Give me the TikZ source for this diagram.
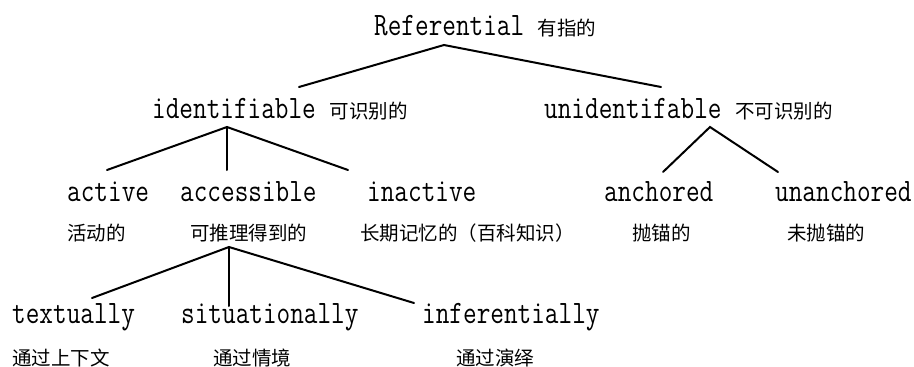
\documentclass[tikz,border=0pt]{standalone}
\usepackage{graphicx}
\usepackage{fontspec}
\newfontfamily\cjk{Noto Sans CJK SC}
\newcommand\engl[1]{\scalebox{0.81}[1]{\ttfamily\fontsize{32.7}{36}\selectfont #1}}
\newcommand\chin[1]{{\cjk\fontsize{19.5}{22}\selectfont #1}}
\tikzset{
  en/.style={inner sep=0pt, anchor=base west},
  zh/.style={inner sep=0pt, anchor=west},
  branch/.style={line width=2pt, line cap=round}
}
\begin{document}
\begin{tikzpicture}[x=1pt,y=-1pt]
\useasboundingbox (0,0) rectangle (914,367);
% text
\node[en] (ref) at (374,35) {\engl{Referential }\chin{有指的}};
\node[en] (ident) at (152,118) {\engl{identifiable }\chin{可识别的}};
\node[en] (unident) at (544,118) {\engl{unidentifable }\chin{不可识别的}};
\node[en] (active) at (67,201) {\engl{active}};
\node[en] (access) at (180,201) {\engl{accessible}};
\node[en] (inact) at (367,201) {\engl{inactive}};
\node[en] (anch) at (604,201) {\engl{anchored}};
\node[en] (unanch) at (775,201) {\engl{unanchored}};
\node[zh] (activezh) at (67,233) {\chin{活动的}};
\node[zh] (accesszh) at (190,233) {\chin{可推理得到的}};
\node[zh] (inactzh) at (360,233) {\chin{长期记忆的（百科知识）}};
\node[zh] (anchzh) at (632,233) {\chin{抛锚的}};
\node[zh] (unanchzh) at (787,233) {\chin{未抛锚的}};
\node[en] (text) at (12,323) {\engl{textually}};
\node[en] (situ) at (181,323) {\engl{situationally}};
\node[en] (infer) at (422,323) {\engl{inferentially}};
\node[zh] (textzh) at (12,358) {\chin{通过上下文}};
\node[zh] (situzh) at (213,358) {\chin{通过情境}};
\node[zh] (inferzh) at (456,358) {\chin{通过演绎}};
% branch points
\coordinate (rA) at (444,45);
\coordinate (rL) at (299,87);
\coordinate (rR) at (661,87);
\coordinate (iA) at (227,127);
\coordinate (iL) at (107,170);
\coordinate (iM) at (227,170);
\coordinate (iR) at (348,170);
\coordinate (uA) at (710,127);
\coordinate (uL) at (663,172);
\coordinate (uR) at (778,172);
\coordinate (aA) at (229,247);
\coordinate (aL) at (92,298);
\coordinate (aM) at (229,306);
\coordinate (aR) at (414,303);
\draw[branch] (rL) -- (rA) -- (rR);
\draw[branch] (iL) -- (iA) -- (iR);
\draw[branch] (iA) -- (iM);
\draw[branch] (uL) -- (uA) -- (uR);
\draw[branch] (aL) -- (aA) -- (aR);
\draw[branch] (aA) -- (aM);
\end{tikzpicture}
\end{document}
